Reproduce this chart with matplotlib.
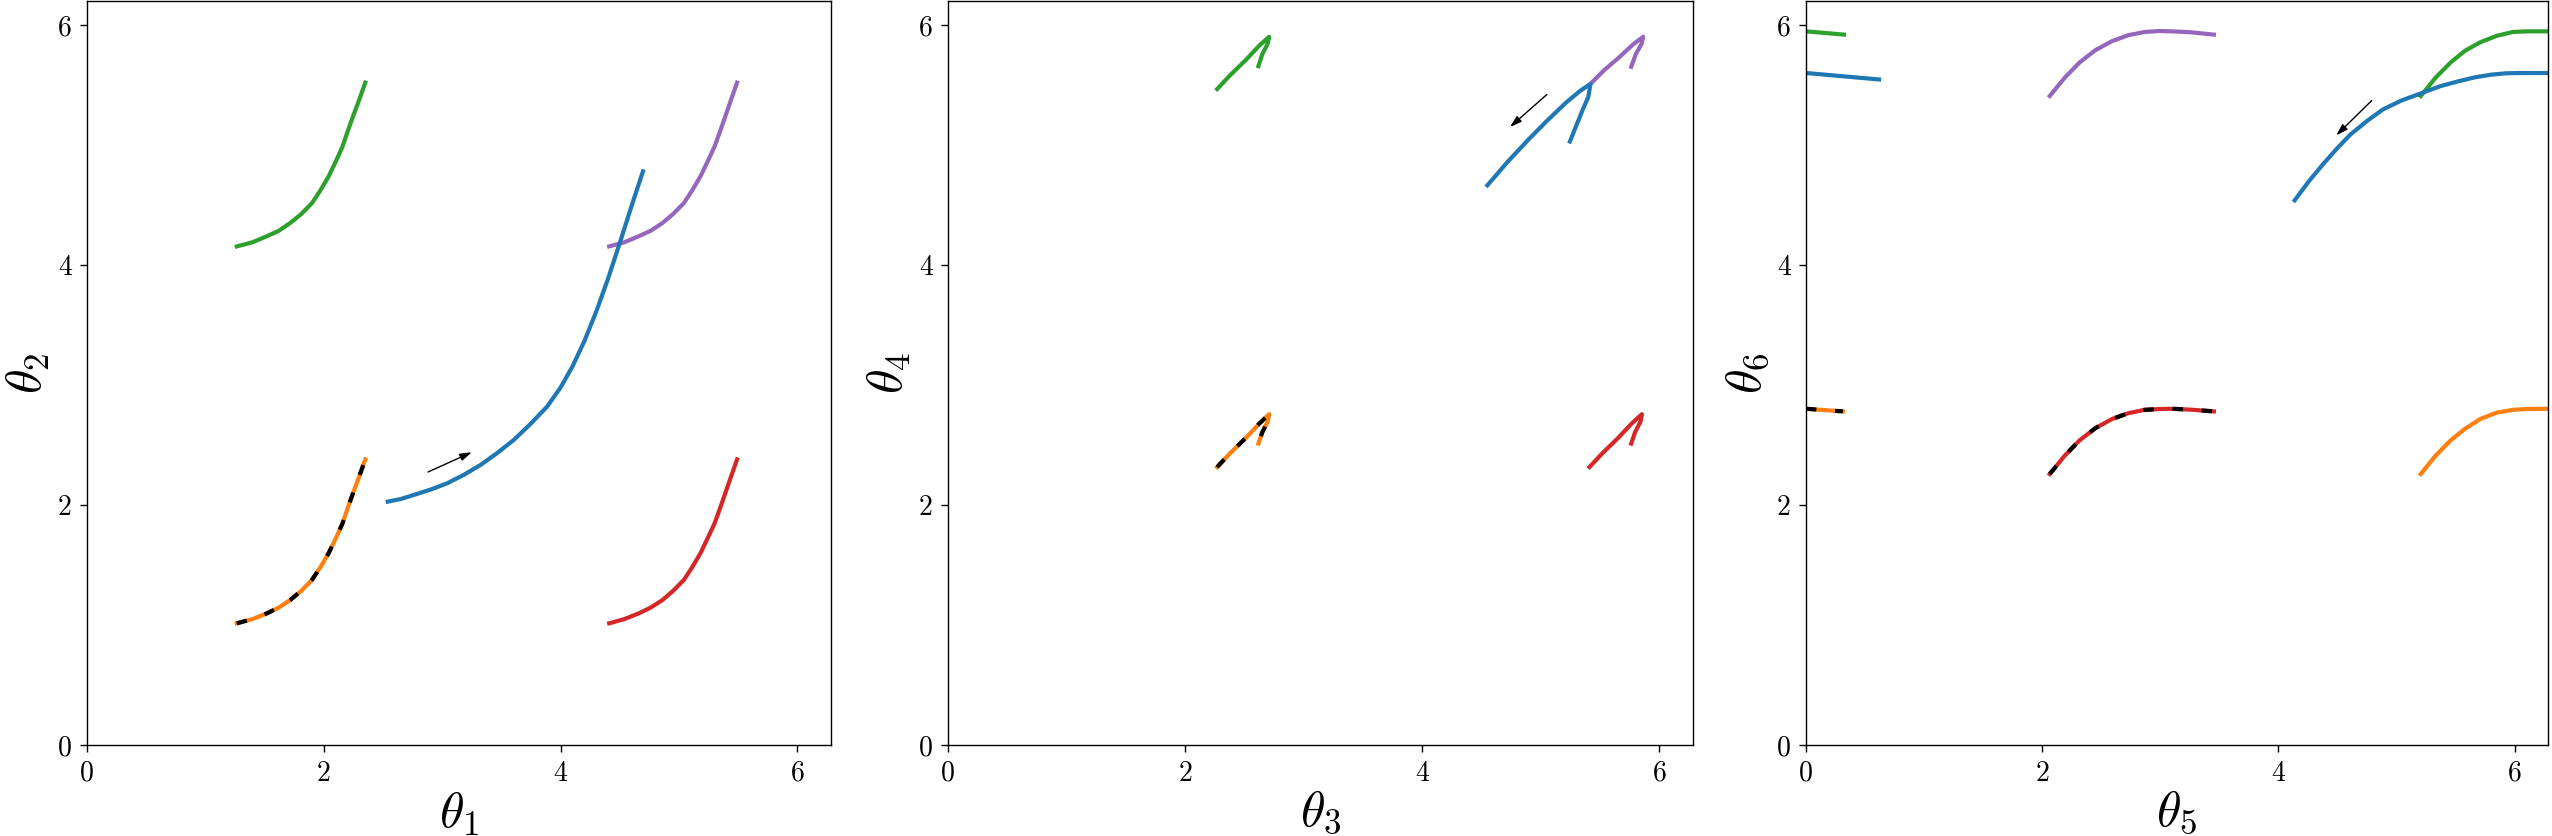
import matplotlib
matplotlib.use("Agg")
import matplotlib.pyplot as plt

plt.rcParams['font.family'] = 'serif'
plt.rcParams['font.serif'] = ['cmr10']
plt.rcParams['mathtext.fontset'] = 'cm'
plt.rcParams['axes.unicode_minus'] = False

C_BLUE, C_ORANGE, C_GREEN, C_RED, C_PURPLE = '#1f77b4', '#ff7f0e', '#2ca02c', '#d62728', '#9467bd'

# ---- panel 1: theta1 vs theta2 ----
p1_orange_x = [1.265, 1.40, 1.519, 1.62, 1.716, 1.81, 1.899, 1.97, 2.04, 2.10, 2.158, 2.20, 2.246, 2.30, 2.35]
p1_orange_y = [1.014, 1.05, 1.097, 1.145, 1.208, 1.285, 1.375, 1.48, 1.597, 1.72, 1.847, 1.97, 2.097, 2.24, 2.38]
p1_green_x = [1.265, 1.40, 1.519, 1.62, 1.716, 1.81, 1.899, 1.97, 2.04, 2.10, 2.158, 2.20, 2.246, 2.30, 2.35]
p1_green_y = [4.155, 4.19, 4.24, 4.285, 4.35, 4.425, 4.515, 4.62, 4.737, 4.86, 4.987, 5.11, 5.237, 5.38, 5.52]
p1_red_x = [4.41, 4.54, 4.66, 4.76, 4.86, 4.95, 5.04, 5.11, 5.18, 5.24, 5.30, 5.345, 5.39, 5.44, 5.49]
p1_red_y = [1.014, 1.05, 1.097, 1.145, 1.208, 1.285, 1.375, 1.48, 1.597, 1.72, 1.847, 1.97, 2.097, 2.24, 2.38]
p1_purple_x = [4.41, 4.54, 4.66, 4.76, 4.86, 4.95, 5.04, 5.11, 5.18, 5.24, 5.30, 5.345, 5.39, 5.44, 5.49]
p1_purple_y = [4.155, 4.19, 4.24, 4.285, 4.35, 4.425, 4.515, 4.62, 4.737, 4.86, 4.987, 5.11, 5.237, 5.38, 5.52]
p1_blue_x = [2.54, 2.65, 2.758, 2.90, 3.04, 3.18, 3.322, 3.46, 3.604, 3.745, 3.886,
             4.0, 4.1, 4.2, 4.3, 4.4, 4.5, 4.6, 4.695]
p1_blue_y = [2.028, 2.05, 2.083, 2.128, 2.18, 2.25, 2.333, 2.43, 2.542, 2.675, 2.82,
             2.98, 3.155, 3.365, 3.61, 3.885, 4.185, 4.495, 4.78]
p1_track_x = p1_orange_x
p1_track_y = p1_orange_y
p1_arrow = ((2.88, 2.275), (3.25, 2.44))

# ---- panel 2: theta3 vs theta4 ----
p2_green_x = [2.27, 2.375, 2.513, 2.627, 2.709, 2.696, 2.65, 2.618]
p2_green_y = [5.466, 5.577, 5.71, 5.83, 5.902, 5.844, 5.755, 5.657]
p2_orange_x = [2.27, 2.375, 2.513, 2.627, 2.709, 2.696, 2.65, 2.618]
p2_orange_y = [2.316, 2.427, 2.56, 2.68, 2.757, 2.694, 2.605, 2.512]
p2_red_x = [5.41, 5.515, 5.653, 5.767, 5.853, 5.84, 5.794, 5.762]
p2_red_y = [2.316, 2.427, 2.56, 2.68, 2.757, 2.694, 2.605, 2.512]
p2_purple_x = [5.419, 5.53, 5.66, 5.78, 5.863, 5.85, 5.80, 5.762]
p2_purple_y = [5.51, 5.62, 5.73, 5.84, 5.902, 5.844, 5.755, 5.652]
p2_blue_x = [4.549, 4.72, 4.892, 5.05, 5.213, 5.33, 5.419, 5.40, 5.35, 5.245]
p2_blue_y = [4.664, 4.86, 5.042, 5.20, 5.354, 5.45, 5.51, 5.40, 5.287, 5.029]
p2_track_x = p2_orange_x
p2_track_y = p2_orange_y
p2_arrow = ((5.05, 5.42), (4.74, 5.15))

# ---- panel 3: theta5 vs theta6 ----
p3_green_l_x = [0.0, 0.321]
p3_green_l_y = [5.947, 5.92]
p3_blue_l_x = [0.0, 0.619]
p3_blue_l_y = [5.6, 5.546]
p3_orange_l_x = [0.0, 0.312]
p3_orange_l_y = [2.802, 2.78]
p3_purple_x = [2.064, 2.19, 2.317, 2.45, 2.592, 2.73, 2.867, 3.0, 3.096, 3.25, 3.454]
p3_purple_y = [5.408, 5.56, 5.688, 5.79, 5.866, 5.915, 5.942, 5.95, 5.947, 5.94, 5.92]
p3_red_x = [2.064, 2.19, 2.317, 2.45, 2.592, 2.73, 2.867, 3.0, 3.096, 3.25, 3.454]
p3_red_y = [2.258, 2.41, 2.539, 2.64, 2.717, 2.765, 2.793, 2.80, 2.802, 2.795, 2.78]
p3_blue_r_x = [4.138, 4.26, 4.38, 4.50, 4.61, 4.75, 4.885, 5.04, 5.206, 5.37, 5.528, 5.67, 5.803, 5.92, 6.032, 6.2832]
p3_blue_r_y = [4.539, 4.70, 4.842, 4.975, 5.087, 5.20, 5.296, 5.37, 5.43, 5.49, 5.532, 5.565, 5.586, 5.597, 5.6, 5.6]
p3_green_r_x = [5.206, 5.33, 5.459, 5.58, 5.711, 5.85, 5.986, 6.10, 6.2832]
p3_green_r_y = [5.408, 5.56, 5.688, 5.785, 5.857, 5.91, 5.942, 5.947, 5.947]
p3_orange_r_x = [5.206, 5.33, 5.459, 5.58, 5.711, 5.85, 5.986, 6.10, 6.2832]
p3_orange_r_y = [2.258, 2.41, 2.539, 2.635, 2.717, 2.77, 2.793, 2.80, 2.802]
p3_arrow = ((4.79, 5.37), (4.49, 5.08))

LW = 3.0
TRACK = dict(color='k', lw=LW, dashes=(2.5, 4.5), solid_capstyle='butt')

fig = plt.figure(figsize=(25.52, 8.36), dpi=100)
W, H = 2552.0, 836.0
bottom = (H - 745) / H
height = 744 / H
lefts = [87, 948, 1806]
widths = [744, 745, 742]
axes = [fig.add_axes([l / W, bottom, w / W, height]) for l, w in zip(lefts, widths)]

def arrow(ax, a):
    (x0, y0), (x1, y1) = a
    ax.annotate('', xy=(x1, y1), xytext=(x0, y0),
                arrowprops=dict(arrowstyle='-|>,head_length=0.7,head_width=0.22',
                                color='k', lw=1.0, shrinkA=0, shrinkB=0))

ax = axes[0]
ax.plot(p1_orange_x, p1_orange_y, color=C_ORANGE, lw=LW)
ax.plot(p1_green_x, p1_green_y, color=C_GREEN, lw=LW)
ax.plot(p1_red_x, p1_red_y, color=C_RED, lw=LW)
ax.plot(p1_purple_x, p1_purple_y, color=C_PURPLE, lw=LW)
ax.plot(p1_blue_x, p1_blue_y, color=C_BLUE, lw=LW)
ax.plot(p1_track_x, p1_track_y, **TRACK)
arrow(ax, p1_arrow)

ax = axes[1]
ax.plot(p2_green_x, p2_green_y, color=C_GREEN, lw=LW)
ax.plot(p2_orange_x, p2_orange_y, color=C_ORANGE, lw=LW)
ax.plot(p2_red_x, p2_red_y, color=C_RED, lw=LW)
ax.plot(p2_purple_x, p2_purple_y, color=C_PURPLE, lw=LW)
ax.plot(p2_blue_x, p2_blue_y, color=C_BLUE, lw=LW)
ax.plot(p2_track_x, p2_track_y, **TRACK)
arrow(ax, p2_arrow)

ax = axes[2]
ax.plot(p3_green_l_x, p3_green_l_y, color=C_GREEN, lw=LW)
ax.plot(p3_green_r_x, p3_green_r_y, color=C_GREEN, lw=LW)
ax.plot(p3_purple_x, p3_purple_y, color=C_PURPLE, lw=LW)
ax.plot(p3_red_x, p3_red_y, color=C_RED, lw=LW)
ax.plot(p3_orange_l_x, p3_orange_l_y, color=C_ORANGE, lw=LW)
ax.plot(p3_orange_r_x, p3_orange_r_y, color=C_ORANGE, lw=LW)
ax.plot(p3_blue_l_x, p3_blue_l_y, color=C_BLUE, lw=LW)
ax.plot(p3_blue_r_x, p3_blue_r_y, color=C_BLUE, lw=LW)
ax.plot(p3_red_x, p3_red_y, **TRACK)
ax.plot(p3_orange_l_x, p3_orange_l_y, **TRACK)
arrow(ax, p3_arrow)

labels = [(r'$\theta_1$', r'$\theta_2$'), (r'$\theta_3$', r'$\theta_4$'), (r'$\theta_5$', r'$\theta_6$')]
for ax, (xl, yl) in zip(axes, labels):
    ax.set_xlim(0, 6.2832)
    ax.set_ylim(0, 6.2)
    ax.set_xticks([0, 2, 4, 6])
    ax.set_yticks([0, 2, 4, 6])
    ax.tick_params(labelsize=20, length=5, width=1, pad=6)
    ax.set_xlabel(xl, fontsize=36, labelpad=2)
    ax.set_ylabel(yl, fontsize=36, labelpad=4)
    for s in ax.spines.values():
        s.set_linewidth(1.0)

fig.savefig('out.png', dpi=100)
